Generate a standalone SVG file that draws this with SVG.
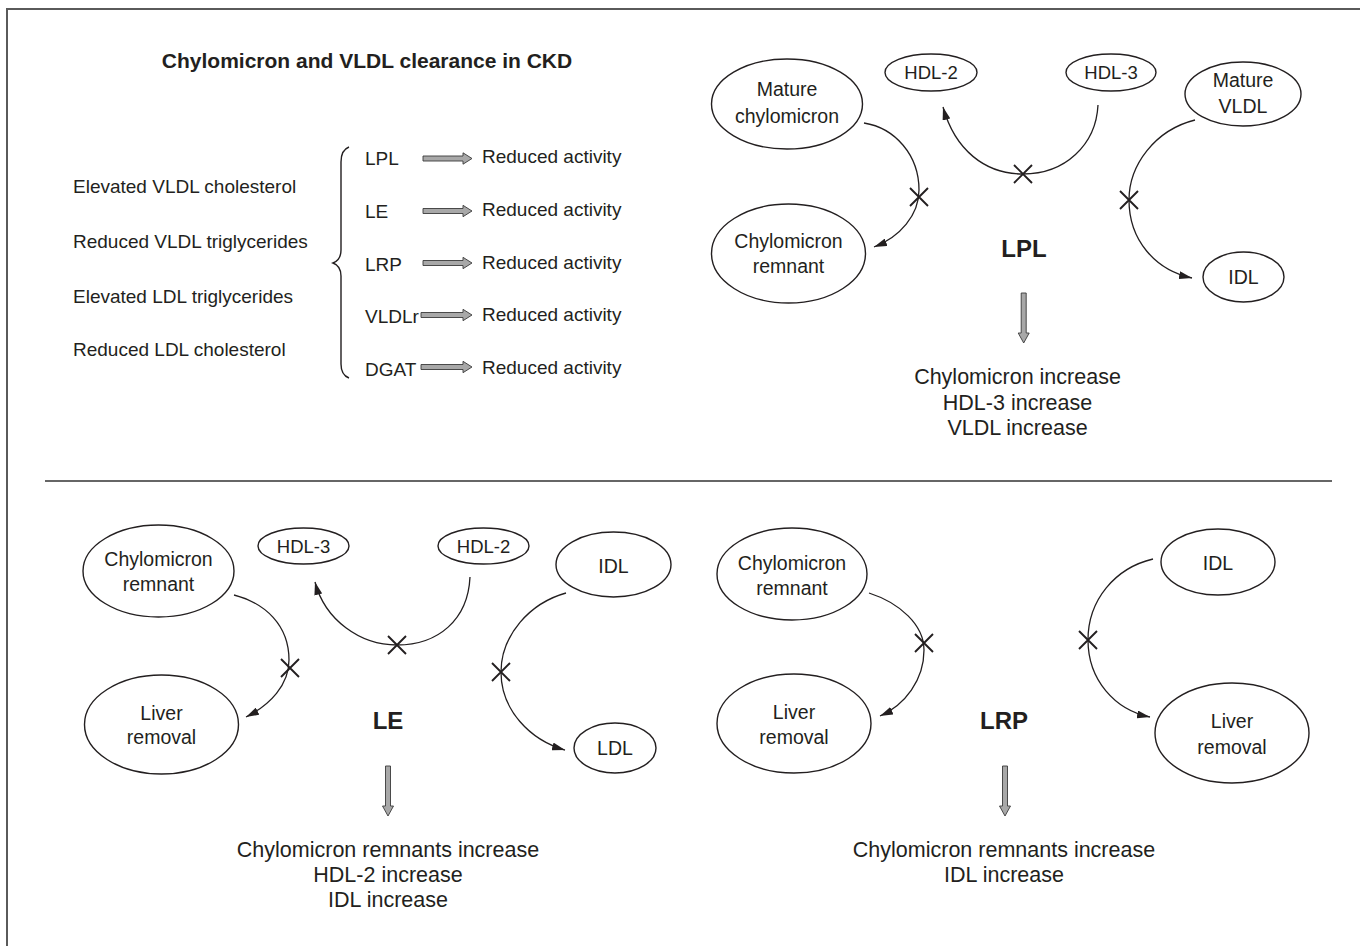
<svg xmlns="http://www.w3.org/2000/svg" width="1360" height="946" viewBox="0 0 1360 946">
<style>
text{font-family:"Liberation Sans",Arial,sans-serif;fill:#231f20}
.t{font-size:19px}
.n{font-size:19.5px;text-anchor:middle}
.h{font-size:18.5px;text-anchor:middle}
.r{font-size:21.5px;text-anchor:middle}
.b{font-size:24px;font-weight:bold;text-anchor:middle}
.ttl{font-size:21px;font-weight:bold;text-anchor:middle}
ellipse{fill:none;stroke:#231f20;stroke-width:1.4}
.c{fill:none;stroke:#231f20;stroke-width:1.3;marker-end:url(#ah)}
.x{stroke:#231f20;stroke-width:1.9;fill:none}
.g{fill:#a8a8a8;stroke:#3a3a3a;stroke-width:0.9}
</style>
<defs>
<marker id="ah" viewBox="0 0 13 8" refX="13" refY="4" markerWidth="13" markerHeight="8" markerUnits="userSpaceOnUse" orient="auto">
<path d="M0,0 L13,4 L0,8 z" fill="#231f20"/>
</marker>
</defs>
<rect width="1360" height="946" fill="#fff"/>
<path d="M7,946 V9 H1360" fill="none" stroke="#5a5a5a" stroke-width="2"/>
<line x1="45" y1="481" x2="1332" y2="481" stroke="#333" stroke-width="1.3"/>

<g id="summary">
<text class="ttl" x="367" y="68">Chylomicron and VLDL clearance in CKD</text>
<text class="t" x="73" y="193">Elevated VLDL cholesterol</text>
<text class="t" x="73" y="248">Reduced VLDL triglycerides</text>
<text class="t" x="73" y="303">Elevated LDL triglycerides</text>
<text class="t" x="73" y="356">Reduced LDL cholesterol</text>
<path d="M349,147 Q341,150 341,162 V250 Q341,260 333,263 Q341,266 341,276 V364 Q341,375 349,378" fill="none" stroke="#231f20" stroke-width="1.4"/>
<text class="t" x="365" y="165">LPL</text>
<text class="t" x="365" y="218">LE</text>
<text class="t" x="365" y="271">LRP</text>
<text class="t" x="365" y="323">VLDLr</text>
<text class="t" x="365" y="376">DGAT</text>
<polygon class="g" points="423,156 463,156 463,152.8 472,158.5 463,164.2 463,161 423,161"/>
<polygon class="g" points="423,208.5 463,208.5 463,205.3 472,211 463,216.7 463,213.5 423,213.5"/>
<polygon class="g" points="423,260.5 463,260.5 463,257.3 472,263 463,268.7 463,265.5 423,265.5"/>
<polygon class="g" points="421,312.5 463,312.5 463,309.3 472,315 463,320.7 463,317.5 421,317.5"/>
<polygon class="g" points="421,364.5 463,364.5 463,361.3 472,367 463,372.7 463,369.5 421,369.5"/>
<text class="t" x="482" y="163">Reduced activity</text>
<text class="t" x="482" y="216">Reduced activity</text>
<text class="t" x="482" y="269">Reduced activity</text>
<text class="t" x="482" y="321">Reduced activity</text>
<text class="t" x="482" y="374">Reduced activity</text>
</g>

<g id="lpl-mature-chylomicron"><ellipse cx="787" cy="104" rx="75.5" ry="45"/><text class="n" x="787" y="96">Mature</text><text class="n" x="787" y="123">chylomicron</text></g>
<g id="lpl-chylomicron-remnant"><ellipse cx="788.5" cy="253.5" rx="77" ry="49.5"/><text class="n" x="788.5" y="248">Chylomicron</text><text class="n" x="788.5" y="273">remnant</text></g>
<g id="lpl-hdl2"><ellipse cx="931" cy="72.5" rx="46" ry="18.5"/><text class="h" x="931" y="79">HDL-2</text></g>
<g id="lpl-hdl3"><ellipse cx="1111" cy="72.5" rx="45" ry="18.5"/><text class="h" x="1111" y="79">HDL-3</text></g>
<g id="lpl-mature-vldl"><ellipse cx="1243" cy="94" rx="58" ry="32"/><text class="n" x="1243" y="87">Mature</text><text class="n" x="1243" y="113">VLDL</text></g>
<g id="lpl-idl"><ellipse cx="1243.5" cy="277" rx="40.5" ry="25"/><text class="n" x="1243.5" y="284">IDL</text></g>
<g id="lpl-label"><text class="b" x="1024" y="257">LPL</text></g>
<g id="lpl-result">
<polygon class="g" points="1021.2,293 1026.2,293 1026.2,333 1029.2,333 1023.7,343 1018.2,333 1021.2,333"/>
<text class="r" x="1017.5" y="384">Chylomicron increase</text>
<text class="r" x="1017.5" y="410">HDL-3 increase</text>
<text class="r" x="1017.5" y="435">VLDL increase</text>
</g>

<g id="le-chylomicron-remnant"><ellipse cx="158.5" cy="571" rx="75.5" ry="46"/><text class="n" x="158.5" y="566">Chylomicron</text><text class="n" x="158.5" y="591">remnant</text></g>
<g id="le-hdl3"><ellipse cx="303.5" cy="546" rx="45.5" ry="18"/><text class="h" x="303.5" y="552.5">HDL-3</text></g>
<g id="le-hdl2"><ellipse cx="483.5" cy="546" rx="45.5" ry="18"/><text class="h" x="483.5" y="552.5">HDL-2</text></g>
<g id="le-idl"><ellipse cx="613.5" cy="564.5" rx="57.5" ry="32.5"/><text class="n" x="613.5" y="573">IDL</text></g>
<g id="le-liver-removal"><ellipse cx="161.5" cy="724.5" rx="77" ry="49.5"/><text class="n" x="161.5" y="720">Liver</text><text class="n" x="161.5" y="744">removal</text></g>
<g id="le-ldl"><ellipse cx="615" cy="748" rx="41" ry="25"/><text class="n" x="615" y="755">LDL</text></g>
<g id="le-label"><text class="b" x="388" y="729">LE</text></g>
<g id="le-result">
<polygon class="g" points="385.5,766 390.5,766 390.5,806 393.5,806 388,816 382.5,806 385.5,806"/>
<text class="r" x="388" y="857">Chylomicron remnants increase</text>
<text class="r" x="388" y="882">HDL-2 increase</text>
<text class="r" x="388" y="907">IDL increase</text>
</g>

<g id="lrp-chylomicron-remnant"><ellipse cx="792" cy="574" rx="75" ry="46"/><text class="n" x="792" y="570">Chylomicron</text><text class="n" x="792" y="595">remnant</text></g>
<g id="lrp-liver-removal-left"><ellipse cx="794" cy="723.5" rx="77" ry="49.5"/><text class="n" x="794" y="719">Liver</text><text class="n" x="794" y="744">removal</text></g>
<g id="lrp-idl"><ellipse cx="1218" cy="562" rx="57" ry="33"/><text class="n" x="1218" y="570">IDL</text></g>
<g id="lrp-liver-removal-right"><ellipse cx="1232" cy="733" rx="77" ry="50"/><text class="n" x="1232" y="728">Liver</text><text class="n" x="1232" y="754">removal</text></g>
<g id="lrp-label"><text class="b" x="1004" y="729">LRP</text></g>
<g id="lrp-result">
<polygon class="g" points="1002.5,766 1007.5,766 1007.5,806 1010.5,806 1005,816 999.5,806 1002.5,806"/>
<text class="r" x="1004" y="857">Chylomicron remnants increase</text>
<text class="r" x="1004" y="882">IDL increase</text>
</g>

<g id="connectors">
<path class="c" d="M864,123 C895,128 919,155 919,190 C919,215 900,237 874,247"/>
<path class="c" d="M1098,105 C1096,145 1065,174 1023,174 C985,174 955,150 943,107"/>
<path class="c" d="M1195,120 C1155,130 1129,165 1129,200 C1129,240 1155,270 1192,278"/>
<path class="c" d="M234,595 C265,603 289,625 289,660 C289,685 270,705 246,717"/>
<path class="c" d="M470,577 C468,620 438,645 397,645 C360,645 325,620 315,582"/>
<path class="c" d="M566,593 C530,603 501,635 501,672 C501,710 530,740 565,750"/>
<path class="c" d="M869,593 C900,603 924,625 924,650 C924,680 905,705 880,716"/>
<path class="c" d="M1153,559 C1115,568 1088,600 1088,640 C1088,680 1115,710 1150,717"/>
<path class="x" d="M910,188 l18,18 m0,-18 l-18,18"/>
<path class="x" d="M1014,165 l18,18 m0,-18 l-18,18"/>
<path class="x" d="M1120,191 l18,18 m0,-18 l-18,18"/>
<path class="x" d="M281,659 l18,18 m0,-18 l-18,18"/>
<path class="x" d="M388,636 l18,18 m0,-18 l-18,18"/>
<path class="x" d="M492,663 l18,18 m0,-18 l-18,18"/>
<path class="x" d="M915,634 l18,18 m0,-18 l-18,18"/>
<path class="x" d="M1079,631 l18,18 m0,-18 l-18,18"/>
</g>
</svg>
